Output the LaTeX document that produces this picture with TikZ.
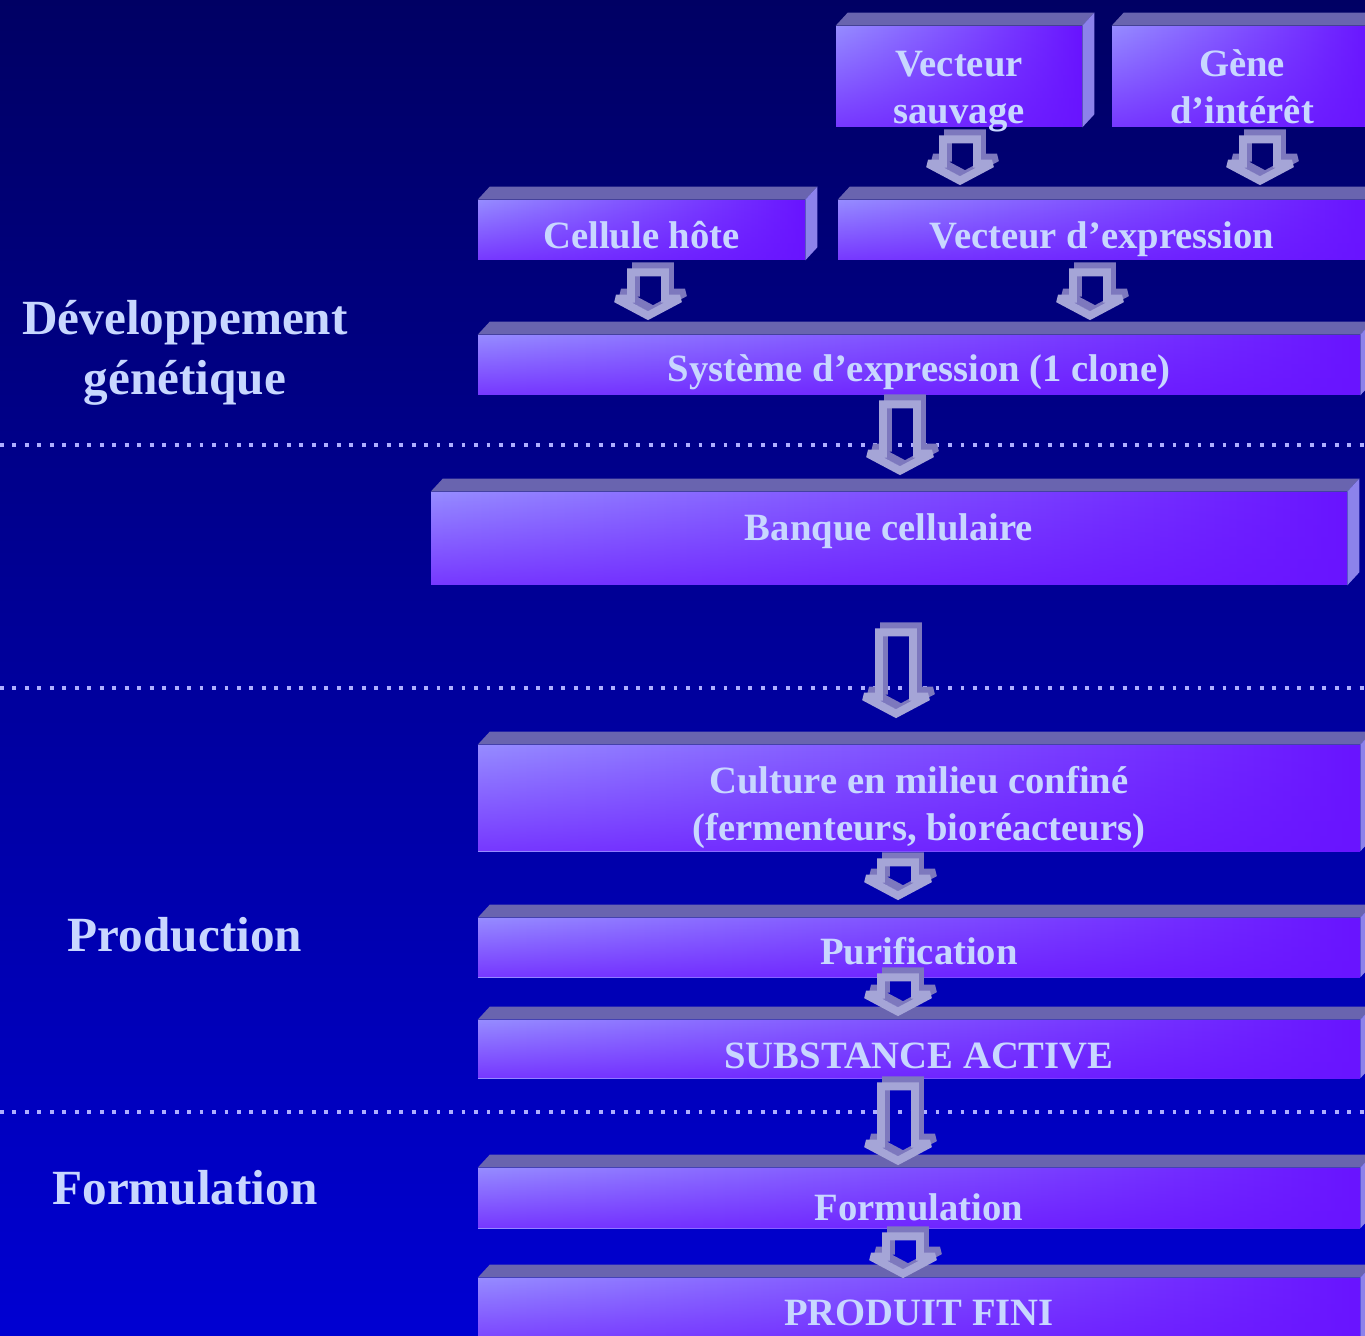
\documentclass[tikz,border=0pt]{standalone}
\usepackage{fontspec}
\setmainfont{Liberation Serif}
\usetikzlibrary{calc,fadings}
\definecolor{bgtop}{RGB}{0,0,100}
\definecolor{bgbot}{RGB}{0,0,210}
\definecolor{slablight}{RGB}{150,140,255}
\definecolor{slabviolet}{RGB}{105,20,255}
\definecolor{slabtopc}{RGB}{105,100,175}
\definecolor{slabsidec}{RGB}{140,130,235}
\definecolor{arrowlight}{RGB}{165,165,215}
\definecolor{arrowdark}{RGB}{125,120,190}
\definecolor{labeltxt}{RGB}{200,215,255}
\definecolor{dotc}{RGB}{175,175,255}
\tikzset{
  slab/.style={
    rectangle,
    inner sep=2pt,
    align=center,
    text=labeltxt,
    font=\bfseries\fontsize{22}{26.5}\selectfont,
    left color=slablight,
    right color=slabviolet,
    path picture={\fill[slabviolet, path fading=north, fill opacity=.7]
      (path picture bounding box.south west) rectangle (path picture bounding box.north east);}
  },
  drop/.style={text height=#1, text depth=0pt},
  slabtop/.style={fill=slabtopc},
  slabside/.style={fill=slabsidec},
  phase/.style={text=labeltxt, align=center, font=\bfseries\fontsize{28}{34}\selectfont},
  sepline/.style={dotc, line width=2.2pt, dash pattern=on 2.2pt off 4.9pt},
  arrowband/.style={line width=4.5pt, line join=miter, miter limit=2}
}
% hollow block arrow, #1 dx, #2 dy of the copy
\newcommand{\arrowpoly}[2]{
  ($(atop)+({-17+#1},{4+#2})$) -- ($(atip)+({-17+#1},{-21+#2})$) -- ($(atip)+({-32+#1},{-21+#2})$)
  -- ($(atip)+({#1},{-4+#2})$) -- ($(atip)+({32+#1},{-21+#2})$) -- ($(atip)+({17+#1},{-21+#2})$)
  -- ($(atop)+({17+#1},{4+#2})$) -- cycle}
% from, to, x, gap below from, shift of tip from to.north
\newcommand{\blockarrow}[5]{
  \coordinate (atop) at ($(#1.south -| #3,0)+(0,#4)$);
  \coordinate (atip) at ($(#2.north -| #3,0)+(0,#5)$);
  \draw[arrowband, arrowdark] \arrowpoly{5}{-6};
  \draw[arrowband, arrowlight] \arrowpoly{0}{0};
}

\begin{document}
\begin{tikzpicture}[x=0.02cm, y=-0.02cm]
  \useasboundingbox (0,0) rectangle (1365,1335);
  \clip (0,0) rectangle (1365,1335);
  \fill[top color=bgtop, bottom color=bgbot] (0,0) rectangle (1365,1335);

  % phases
  \draw[sepline] (0,445) -- (1365,445);
  \draw[sepline] (0,688) -- (1365,688);
  \draw[sepline] (0,1112) -- (1365,1112);
  \node[phase] (devgen) at (185,353) {Développement\\génétique};
  \node[phase] (prod) at (185,935) {Production};
  \node[phase] (form) at (185,1188) {Formulation};

  % steps
  \node[slab, text height=53pt, text depth=0pt, minimum width=4.92cm, minimum height=2.02cm] (sauvage) at (959,76.5) {Vecteur\\sauvage};
  \node[slab, text height=53pt, text depth=0pt, minimum width=5.2cm, minimum height=2.02cm] (gene) at (1242,76.5) {Gène\\d’intérêt};
  \node[slab, drop=21.5pt, minimum width=6.54cm, minimum height=1.2cm] (cellule) at (641.5,230) {Cellule hôte};
  \node[slab, drop=21.5pt, minimum width=10.56cm, minimum height=1.2cm] (vexpr) at (1102,230) {Vecteur d’expression};
  \node[slab, drop=19.3pt, minimum width=17.64cm, minimum height=1.2cm] (systeme) at (919,365) {Système d’expression (1 clone)};
  \node[slab, text height=12pt, text depth=10pt, minimum width=18.32cm, minimum height=1.86cm] (banque) at (889,538.5) {Banque cellulaire};
  \node[slab, text height=52pt, text depth=3.8pt, minimum width=17.64cm, minimum height=2.12cm] (culture) at (919,798) {Culture en milieu confiné\\(fermenteurs, bioréacteurs)};
  \node[slab, drop=19.6pt, minimum width=17.64cm, minimum height=1.18cm] (purif) at (919,947.5) {Purification};
  \node[slab, drop=22.7pt, minimum width=17.64cm, minimum height=1.16cm] (substance) at (919,1049) {SUBSTANCE ACTIVE};
  \node[slab, drop=26pt, minimum width=17.64cm, minimum height=1.2cm] (formul) at (919,1198) {Formulation};
  \node[slab, drop=13.6pt, minimum width=17.64cm, minimum height=1.44cm] (produit) at (919,1314) {PRODUIT FINI};

  \foreach \n in {sauvage,gene,cellule,vexpr,systeme,banque,culture,purif,substance,formul,produit} {
    \fill[slabtop] (\n.north west) -- ++(12,-13) -- ($(\n.north east)+(12,-13)$) -- (\n.north east) -- cycle;
    \fill[slabside] (\n.north east) -- ++(12,-13) -- ($(\n.south east)+(12,-13)$) -- (\n.south east) -- cycle;
  }

  \blockarrow{sauvage}{vexpr}{960}{8}{-15}
  \blockarrow{gene}{vexpr}{1260}{8}{-15}
  \blockarrow{cellule}{systeme}{648}{8}{-15}
  \blockarrow{vexpr}{systeme}{1090}{8}{-15}
  \blockarrow{systeme}{banque}{900}{5}{-17}
  \blockarrow{banque}{culture}{896}{43}{-27}
  \blockarrow{culture}{purif}{898}{7}{-18}
  \blockarrow{purif}{substance}{898}{-4}{-4}
  \blockarrow{substance}{formul}{898}{4}{-3}
  \blockarrow{formul}{produit}{903}{4}{0}
\end{tikzpicture}
\end{document}
